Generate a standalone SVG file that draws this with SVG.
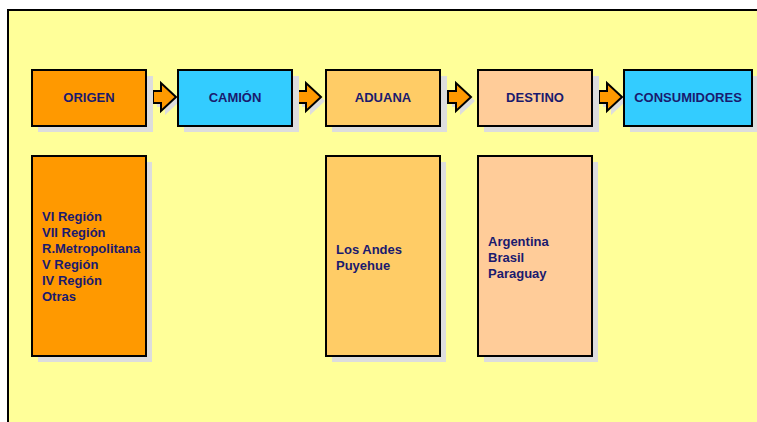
<svg xmlns="http://www.w3.org/2000/svg" width="757" height="422" viewBox="0 0 757 422">
<style>
.box{stroke:#000;stroke-width:2}
.sh{fill:#dddddd}
.t{font-family:"Liberation Sans",Arial,sans-serif;font-weight:bold;font-size:13px;fill:#1a1a6e}
.h{text-anchor:middle}
.arr{fill:#ff9900;stroke:#000;stroke-width:2;stroke-linejoin:miter}
</style>
<defs>
<path id="arrow" d="M0,8 H8 V0 L23,14 L8,28 V20 H0 Z"/>
</defs>
<rect x="0" y="0" width="757" height="422" fill="#ffffff"/>
<rect x="8" y="10" width="760" height="420" fill="#ffff99" stroke="#000" stroke-width="2"/>
<g id="connectors">
<g transform="translate(153,83)"><use href="#arrow" class="sh" transform="translate(4,4)"/><use href="#arrow" class="arr"/></g>
<g transform="translate(298,83)"><use href="#arrow" class="sh" transform="translate(4,4)"/><use href="#arrow" class="arr"/></g>
<g transform="translate(448,83)"><use href="#arrow" class="sh" transform="translate(4,4)"/><use href="#arrow" class="arr"/></g>
<g transform="translate(599,83)"><use href="#arrow" class="sh" transform="translate(4,4)"/><use href="#arrow" class="arr"/></g>
</g>
<g id="origen">
<rect class="sh" x="38" y="76" width="115" height="56"/>
<rect class="box" x="32" y="70" width="114" height="56" fill="#ff9900"/>
<text class="t h" x="89" y="102">ORIGEN</text>
</g>
<g id="camion">
<rect class="sh" x="184" y="76" width="115" height="56"/>
<rect class="box" x="178" y="70" width="114" height="56" fill="#33ccff"/>
<text class="t h" x="235" y="102">CAMIÓN</text>
</g>
<g id="aduana">
<rect class="sh" x="332" y="76" width="115" height="56"/>
<rect class="box" x="326" y="70" width="114" height="56" fill="#ffcc66"/>
<text class="t h" x="383" y="102">ADUANA</text>
</g>
<g id="destino">
<rect class="sh" x="484" y="76" width="115" height="56"/>
<rect class="box" x="478" y="70" width="114" height="56" fill="#ffcc99"/>
<text class="t h" x="535" y="102">DESTINO</text>
</g>
<g id="consumidores">
<rect class="sh" x="630" y="76" width="129" height="56"/>
<rect class="box" x="624" y="70" width="128" height="56" fill="#33ccff"/>
<text class="t h" x="688" y="102">CONSUMIDORES</text>
</g>
<g id="origen-detalle">
<rect class="sh" x="38" y="162" width="114" height="200"/>
<rect class="box" x="32" y="156" width="114" height="200" fill="#ff9900"/>
<text class="t" x="42" y="221">VI Región</text>
<text class="t" x="42" y="237">VII Región</text>
<text class="t" x="42" y="253">R.Metropolitana</text>
<text class="t" x="42" y="269">V Región</text>
<text class="t" x="42" y="285">IV Región</text>
<text class="t" x="42" y="301">Otras</text>
</g>
<g id="aduana-detalle">
<rect class="sh" x="332" y="162" width="114" height="200"/>
<rect class="box" x="326" y="156" width="114" height="200" fill="#ffcc66"/>
<text class="t" x="336" y="254">Los Andes</text>
<text class="t" x="336" y="270">Puyehue</text>
</g>
<g id="destino-detalle">
<rect class="sh" x="484" y="162" width="114" height="200"/>
<rect class="box" x="478" y="156" width="114" height="200" fill="#ffcc99"/>
<text class="t" x="488" y="246">Argentina</text>
<text class="t" x="488" y="262">Brasil</text>
<text class="t" x="488" y="278">Paraguay</text>
</g>
</svg>
